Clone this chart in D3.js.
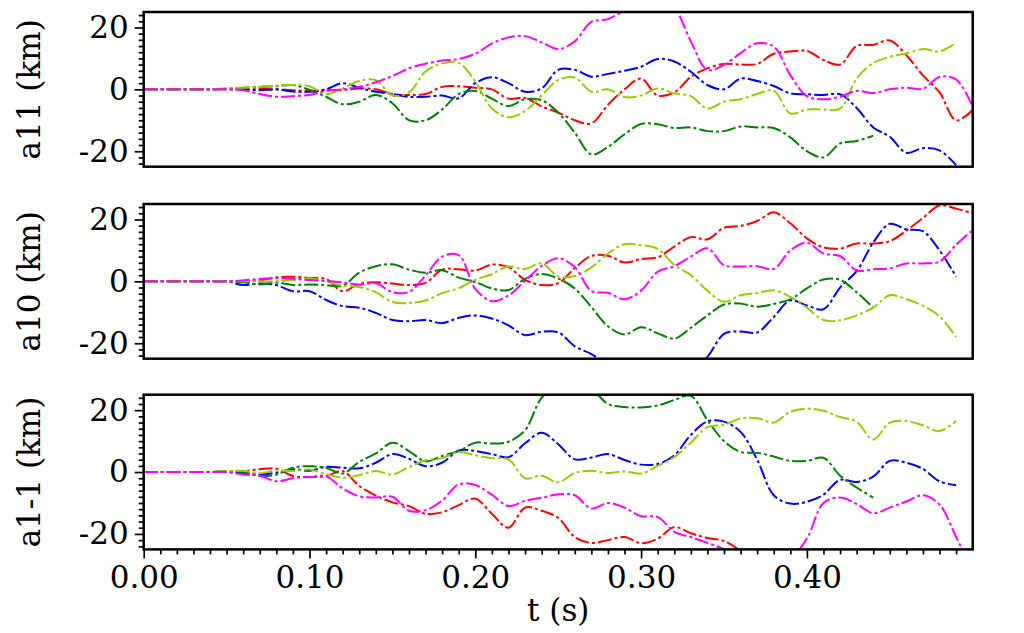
<!DOCTYPE html>
<html>
<head>
<meta charset="utf-8">
<script src="https://cdn.jsdelivr.net/npm/d3@7"></script>
<style>
  body { margin: 0; background: #fff; }
  text { font-family: "DejaVu Serif", serif; }
</style>
</head>
<body>
<div id="my_dataviz"></div>
<script>
// time samples (s)
let times = [0.00, 0.01, 0.02, 0.03, 0.04, 0.05, 0.06, 0.07, 0.08, 0.09,
  0.10, 0.11, 0.12, 0.13, 0.14, 0.15, 0.16, 0.17, 0.18, 0.19,
  0.20, 0.21, 0.22, 0.23, 0.24, 0.25, 0.26, 0.27, 0.28, 0.29,
  0.30, 0.31, 0.32, 0.33, 0.34, 0.35, 0.36, 0.37, 0.38, 0.39,
  0.40, 0.41, 0.42, 0.43, 0.44, 0.45, 0.46, 0.47, 0.48, 0.49, 0.50]

let panelLabels = ["a11 (km)", "a10 (km)", "a1-1 (km)"]
let seriesColors = ["#ff0000", "#0000ff", "#008000", "#99cc00", "#ff00ff"]
let xTicks = [0.0, 0.1, 0.2, 0.3, 0.4]
let xMinorTicks = [0.01, 0.02, 0.03, 0.04, 0.05, 0.06, 0.07, 0.08, 0.09,
  0.11, 0.12, 0.13, 0.14, 0.15, 0.16, 0.17, 0.18, 0.19,
  0.21, 0.22, 0.23, 0.24, 0.25, 0.26, 0.27, 0.28, 0.29,
  0.31, 0.32, 0.33, 0.34, 0.35, 0.36, 0.37, 0.38, 0.39,
  0.41, 0.42, 0.43, 0.44, 0.45, 0.46, 0.47, 0.48, 0.49]
let yTicks = [-20, 0, 20]
let yMinorTicks = [-24, -22, -18, -16, -14, -12, -10, -8, -6, -4, -2,
  2, 4, 6, 8, 10, 12, 14, 16, 18, 22, 24]

// a11
let a11Red = [0, 0, 0, 0, 0, 0.2, 0.3, 0.2, 0, -0.3,
  -0.5, -0.3, -0.2, 0.3, 0, -1.5, -1.8, -1.5, 0.8, 1,
  0.5, 0, -3, -2.8, -5.5, -7.5, -10, -11, -5, 0,
  3.5, -2, -1, 4, 6.8, 8.2, 8, 8.2, 11.5, 12.2,
  12.4, 9.5, 8, 14, 14.4, 15.8, 11, 4.5, -1, -10,
  -6.7]
let a11Blue = [0, 0, 0, 0, 0, 0, 0, -0.3, 0, -0.7,
  -0.8, 0, 2, 0.5, -0.8, -1.5, -2.4, -2.4, -2, -2.9,
  2, 3.9, 2, -0.8, 0.3, 6.3, 6.3, 4.1, 5, 6,
  7.3, 9.8, 9, 5.7, 1.4, 0, 3.5, 2.7, 1.1, -1.3,
  -1.6, -1.8, -1.6, -6, -12.3, -15.3, -20.5, -19, -19.7, -24.5,
  null]
let a11Green = [0, 0, 0, 0, 0, 0.2, 0.5, 0.8, 1, 1.4,
  -0.2, -2.4, -4.8, -4, -1.8, -4.5, -10, -10, -6.5, -1.5,
  -0.5, -3, -5.4, -3.2, -3.5, -7.5, -14, -21, -18.6, -14.5,
  -11.2, -11.3, -12.5, -12.3, -13.5, -13.5, -12, -12.3, -12.5, -15.5,
  -20, -22, -17.5, -16.7, -15, null, null, null, null, null,
  null]
let a11Yellow = [0, 0, 0, 0, 0, 0.3, 0.5, 0.8, 1.2, 1.4,
  1, -1.6, 0.3, 2.7, 3, -2, -1, 5.8, 8.4, 8.6,
  2.5, -6.2, -9, -7, -2, 3, 3.8, -0.8, 0, -2.5,
  -2, 0.3, -1.3, -2.2, -6.2, -4, -3.2, -1.5, -0.4, -7.8,
  -6.5, -6.5, -6.2, 3.5, 8.5, 10.5, 11.6, 13, 12.3, 15,
  null]
let a11Magenta = [0, 0, 0, 0, 0, 0, -0.3, -1.5, -2.4, -2.2,
  -1.8, -0.5, 0, 0.8, 2.3, 4.3, 6.8, 8.3, 9.3, 9.8,
  11.5, 14.8, 16.8, 17.2, 15.2, 13, 15.5, 21.8, 22.7, 25.5,
  29, 30, 26.5, 15.5, 6.3, 7.9, 11.7, 14.9, 13.8, 4.6,
  -2.2, -3.2, -2.4, -0.5, -1.2, 0, 0.5, 0.2, 4, 3.2,
  -5.6]

// a10
let a10Red = [0, 0, 0, 0, 0, 0, 0, 0.3, 1.3, 1.5,
  1.1, 0.8, -3.2, -0.8, -0.3, -0.7, -1.2, -0.5, 3.8, 3.9,
  3.5, 5.4, 4.6, 0.5, -1.2, -0.6, 4.3, 8.2, 8.3, 6.1,
  7.2, 7.8, 11.2, 14.3, 13.6, 17.3, 17.9, 19.5, 22.3, 18.8,
  13.9, 11, 10.6, 12.2, 12.2, 13, 16.4, 20.5, 24.5, 23.5,
  22]
let a10Blue = [0, 0, 0, 0, 0, 0, -1.2, -0.7, -1.2, -3.2,
  -3.2, -6, -8, -8.5, -10.2, -12.5, -12.9, -12.5, -13.5, -11.8,
  -11, -12, -14.2, -17.4, -16.3, -16.5, -21, -23.5, -27, -30,
  -32, -33, -32, -29, -24.4, -17, -16.2, -16.5, -11.5, -6.2,
  -7.8, -9, -2, 3.3, 12.5, 18.6, 16.8, 16.2, 10, 1.5,
  null]
let a10Green = [0, 0, 0, 0, 0, 0, -0.3, -1, -0.4, -1.2,
  -1, -1.2, -1.4, 2.8, 4.9, 5.5, 3.8, 2.8, 3.6, 1.2,
  -0.2, -2.3, -2.8, 0.8, 2.4, 0.9, -2.3, -8.3, -14.5, -17.2,
  -14.8, -16.8, -18.5, -15, -11, -7.5, -7.2, -8.2, -7.3, -5.8,
  -2.3, 0.6, 0.5, -3.5, -8.5, null, null, null, null, null,
  null]
let a10Yellow = [0, 0, 0, 0, 0, 0, 0, 0, 0, 0.4,
  1, 0, -1.4, -1.8, -3.5, -6.7, -7, -6.2, -3.8, -2.2,
  0.5, 2.3, 4.8, 4, 5.8, 1.6, 1.7, 4.5, 9, 12,
  11.7, 10.5, 5.3, 2, -3, -6.6, -4.5, -3.8, -2.9, -5,
  -8.5, -12.5, -12.6, -11, -8.5, -4.5, -5.8, -7.9, -11.3, -18,
  null]
let a10Magenta = [0, 0, 0, 0, 0, 0, 0.3, 0.8, 1, 0.8,
  0.4, 0.1, -0.3, -1.1, -0.6, -3.5, -3.4, 1.9, 8, 8.5,
  -2.4, -6.4, -4.6, 0.2, 5, 7.5, 4.6, -3.1, -3.7, -5.8,
  -3, 3.1, 4.9, 8, 10.7, 5.2, 4.8, 4.9, 4, 10,
  12.5, 9, 8.2, 3.5, 3.9, 4.2, 5.8, 5.8, 6.4, 11.8,
  16.6]

// a1-1
let a1m1Red = [0, 0, 0, 0, 0, 0, 0.3, 0.9, 1.1, -1.3,
  -1.6, -1.3, 0.3, -4.5, -7.6, -9.8, -11, -13.5, -13, -10.7,
  -8.6, -13.5, -18, -11.5, -12.5, -14.8, -21, -22.9, -22, -21,
  -23, -21.5, -17.8, -19.8, -21.3, -22.3, -25.5, -30, null, null,
  null, null, null, null, null, null, null, null, null, null,
  null]
let a1m1Blue = [0, 0, 0, 0, 0, 0, -0.3, -0.8, -0.2, 0.9,
  0.4, 1.7, 1.4, 1.2, 3, 5.8, 4.3, 1.9, 3, 7,
  6.8, 5.8, 4.8, 9.3, 12.7, 9, 4.1, 4.7, 5.8, 3.9,
  2.4, 2.6, 5.4, 12, 16.4, 16.3, 13, 4, -7.5, -10.2,
  -9.6, -7.3, -2.5, -3.2, -1.5, 3.6, 3, 1, -3, -4.3,
  null]
let a1m1Green = [0, 0, 0, 0, 0, 0.3, 0, -1.3, -0.8, 1.4,
  1.9, 1.4, -0.5, 3.3, 6, 9.5, 6.8, 3.5, 5.2, 6.8,
  9.5, 9.2, 9.8, 13.5, 24, 28, 29, 27, 22, 21,
  20.9, 21.5, 23.3, 24.6, 16.8, 10, 6.5, 6.2, 5, 3.6,
  3.6, 4.6, -1.2, -5, -8.3, null, null, null, null, null,
  null]
let a1m1Yellow = [0, 0, 0, 0, 0, 0.3, 0.4, -0.4, 0.5, 0.3,
  0.8, -0.7, -1.8, -1, 0.3, -0.8, 1.6, 3.8, 4.5, 6.5,
  5.4, 4.5, 4.1, -2, -1.2, -3.3, -0.3, 0.4, -0.3, 0.2,
  -0.5, 2, 4.8, 9.5, 14.5, 15.3, 17.3, 17.4, 16, 19.5,
  20.5, 19.8, 17.8, 16.3, 10.5, 16, 16.5, 15.1, 13.3, 16.5,
  null]
let a1m1Magenta = [0, 0, 0, 0, 0, 0, -0.8, -1.2, -3, -2,
  -1.6, -1.4, -5.3, -7.8, -8.2, -8, -12.5, -12.3, -9.2, -4,
  -4.2, -7.3, -11, -9.3, -8.3, -7.2, -7.5, -11.8, -10, -11.5,
  -14.3, -14.5, -19.3, -21, -22.9, -25, -28, -30, -30, -28,
  -21.5, -10, -8.2, -10.3, -13.3, -11.5, -9.5, -7.5, -10.5, -21,
  -32]

let panels = [
  [a11Red, a11Blue, a11Green, a11Yellow, a11Magenta],
  [a10Red, a10Blue, a10Green, a10Yellow, a10Magenta],
  [a1m1Red, a1m1Blue, a1m1Green, a1m1Yellow, a1m1Magenta]
]

function init(){
// set the dimensions and margins of the graph
let margin = {left: 143.7},
    width = 829,
    height = 154.7,
    panelTops = [12, 204, 394.7];

// append the svg object to the body of the page
let svg = d3.select("#my_dataviz")
  .append("svg")
    .attr("width", 1024)
    .attr("height", 633);

let x = d3.scaleLinear()
  .domain([0, 0.5])
  .range([0, width]);

let y = d3.scaleLinear()
  .domain([-25, 25])
  .range([height, 0]);

let line = d3.line()
  .defined(function (d) { return d[1] != null; })
  .x(function (d) { return x(d[0]); })
  .y(function (d) { return y(d[1]); })
  .curve(d3.curveCatmullRom.alpha(0.5));

panels.forEach(function (series, p) {
  let g = svg.append("g")
    .attr("transform", "translate(" + margin.left + "," + panelTops[p] + ")");

  g.append("clipPath")
    .attr("id", "clip" + p)
    .append("rect")
      .attr("width", width)
      .attr("height", height);

  // Add the lines
  let lines = g.append("g").attr("clip-path", "url(#clip" + p + ")");
  series.forEach(function (vals, i) {
    lines.append("path")
      .datum(times.map(function (t, k) { return [t, vals[k]]; }))
      .attr("fill", "none")
      .attr("stroke", seriesColors[i])
      .attr("stroke-width", 2)
      .attr("stroke-dasharray", "14,3,3,3")
      .attr("d", line);
  });

  // Add Y axis: minor ticks then major ticks with labels (plain hyphen minus)
  g.append("g")
    .call(d3.axisLeft(y).tickValues(yMinorTicks).tickSize(5).tickFormat(""))
    .call(function (a) { a.select(".domain").remove(); });
  g.append("g")
    .call(d3.axisLeft(y).tickValues(yTicks).tickSize(9).tickPadding(6)
      .tickFormat(function (d) { return String(d); }))
    .call(function (a) { a.select(".domain").remove(); });

  // Add X axis on the lowest panel only
  if (p == panels.length - 1) {
    g.append("g")
      .attr("transform", "translate(0," + height + ")")
      .call(d3.axisBottom(x).tickValues(xMinorTicks).tickSize(5).tickFormat(""))
      .call(function (a) { a.select(".domain").remove(); });
    g.append("g")
      .attr("transform", "translate(0," + height + ")")
      .call(d3.axisBottom(x).tickValues(xTicks).tickSize(9).tickPadding(8)
        .tickFormat(function (d) { return d.toFixed(2); }))
      .call(function (a) { a.select(".domain").remove(); });
  }

  // frame
  g.append("rect")
    .attr("width", width)
    .attr("height", height)
    .attr("fill", "none")
    .attr("stroke", "#000")
    .attr("stroke-width", 2.5);

  // y label
  svg.append("text")
    .attr("transform", "translate(40," + (panelTops[p] + height / 2) + ") rotate(-90)")
    .attr("text-anchor", "middle")
    .style("font-size", "31px")
    .text(panelLabels[p]);
});

svg.selectAll(".tick line")
  .attr("stroke", "#000")
  .attr("stroke-width", 1.7);
svg.selectAll(".tick text")
  .attr("fill", "#000")
  .style("font-family", "'DejaVu Serif', serif")
  .style("font-size", "31px");

// x label
svg.append("text")
  .attr("x", margin.left + width / 2)
  .attr("y", 621)
  .attr("text-anchor", "middle")
  .style("font-size", "31px")
  .text("t (s)");
}

init();
</script>
</body>
</html>
